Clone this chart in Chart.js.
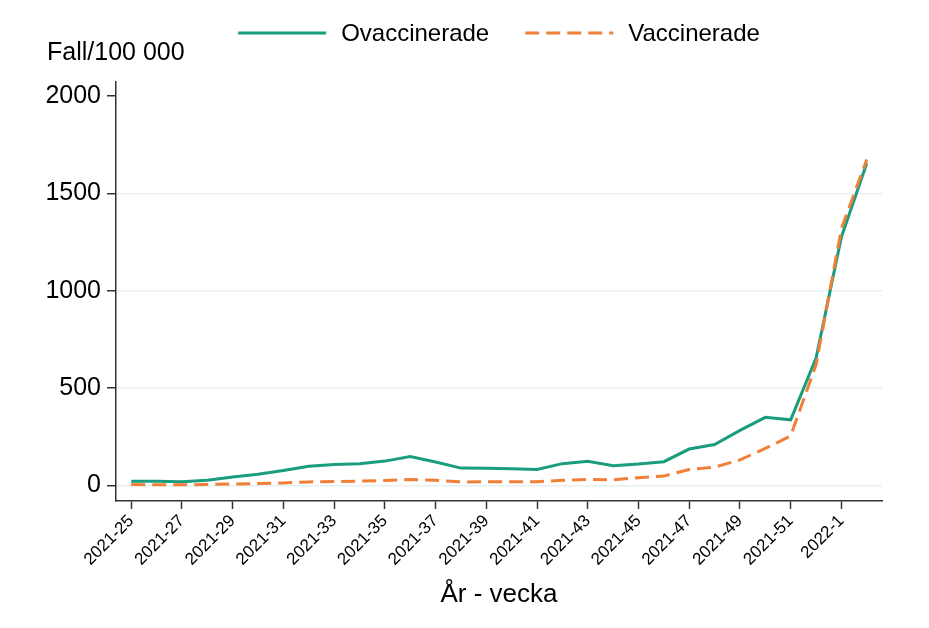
<!DOCTYPE html>
<html>
<head>
<meta charset="utf-8">
<script src="https://cdn.jsdelivr.net/npm/chart.js@4.4.0/dist/chart.umd.min.js"></script>
<style>
  html, body { margin: 0; padding: 0; background: #fff; }
  #wrap { width: 929px; height: 628px; }
</style>
</head>
<body>
<div id="wrap"><canvas id="chart"></canvas></div>
<script>
// week labels, 2021-25 .. 2022-2
const weeks = [
    '2021-25', '2021-26', '2021-27', '2021-28', '2021-29', '2021-30', '2021-31', '2021-32',
    '2021-33', '2021-34', '2021-35', '2021-36', '2021-37', '2021-38', '2021-39', '2021-40',
    '2021-41', '2021-42', '2021-43', '2021-44', '2021-45', '2021-46', '2021-47', '2021-48',
    '2021-49', '2021-50', '2021-51', '2021-52', '2022-1', '2022-2'
];
// cases per 100 000
const unvaccinated = [22, 21, 19, 27, 43, 57, 77, 98, 108, 112, 125, 148, 120, 89, 88,
    86, 82, 112, 124, 101, 110, 122, 187, 210, 283, 350, 337, 655, 1277, 1655];
const vaccinated = [5, 3, 3, 5, 7, 10, 13, 18, 20, 22, 25, 30, 27, 18, 19,
    19, 19, 26, 31, 29, 40, 48, 82, 94, 131, 190, 255, 620, 1320, 1675];

const xTicks = [0, 2, 4, 6, 8, 10, 12, 14, 16, 18, 20, 22, 24, 26, 28];
const yTicks = [0, 500, 1000, 1500, 2000];
const gridValues = [0, 500, 1000, 1500];

const green = '#1a9d7e';
const orange = '#f07f38';

Chart.defaults.font.family = '"Liberation Sans", Arial, sans-serif';
Chart.defaults.color = '#000';

// legend line samples + "Fall/100 000" label above the y axis
const legendAndTitle = {
    id: 'legendAndTitle',
    afterDraw(chart) {
        const ctx = chart.ctx;
        const area = chart.chartArea;
        const items = chart.data.datasets;
        const sample = 88, gap = 15, between = 36;
        ctx.save();
        ctx.font = '24px "Liberation Sans", Arial, sans-serif';
        ctx.textBaseline = 'middle';
        ctx.textAlign = 'left';
        let total = 0;
        items.forEach((d, i) => {
            total += sample + gap + ctx.measureText(d.label).width;
            if (i < items.length - 1) total += between;
        });
        let x = (area.left + area.right) / 2 - total / 2;
        const y = 33;
        items.forEach(d => {
            ctx.strokeStyle = d.borderColor;
            ctx.lineWidth = d.borderWidth;
            ctx.setLineDash(d.borderDash || []);
            ctx.beginPath();
            ctx.moveTo(x, y);
            ctx.lineTo(x + sample, y);
            ctx.stroke();
            x += sample + gap;
            ctx.fillStyle = '#000';
            ctx.fillText(d.label, x, y + 1);
            x += ctx.measureText(d.label).width + between;
        });
        ctx.setLineDash([]);
        ctx.font = '25px "Liberation Sans", Arial, sans-serif';
        ctx.fillText('Fall/100 000', 47, 53);
        ctx.restore();
    }
};

const ctx = document.getElementById('chart').getContext('2d');
new Chart(ctx, {
    type: 'line',
    data: {
        datasets: [{
            label: 'Ovaccinerade',
            data: unvaccinated.map((v, i) => ({ x: i, y: v })),
            borderColor: green,
            borderWidth: 3,
            pointRadius: 0,
            order: 1
        }, {
            label: 'Vaccinerade',
            data: vaccinated.map((v, i) => ({ x: i, y: v })),
            borderColor: orange,
            borderWidth: 3,
            borderDash: [14, 7],
            pointRadius: 0,
            order: 0
        }]
    },
    options: {
        responsive: true,
        maintainAspectRatio: false,
        animation: false,
        devicePixelRatio: 1,
        layout: { padding: { top: 82, left: 0, right: 47, bottom: 0 } },
        plugins: {
            legend: { display: false },
            tooltip: { enabled: false }
        },
        scales: {
            x: {
                type: 'linear',
                min: -0.6,
                max: 29.6,
                afterBuildTicks: s => { s.ticks = xTicks.map(v => ({ value: v })); },
                afterFit: s => { s.height = 127; },
                grid: { drawOnChartArea: false, drawTicks: true, tickLength: 8, tickColor: '#333', tickWidth: 1.5 },
                border: { color: '#333', width: 1.5 },
                ticks: {
                    font: { size: 17 },
                    color: '#000',
                    autoSkip: false,
                    maxRotation: 45,
                    minRotation: 45,
                    padding: 2,
                    callback: v => weeks[v]
                },
                title: {
                    display: true,
                    text: 'År - vecka',
                    font: { size: 26 },
                    color: '#000',
                    padding: { top: 0, bottom: 18 }
                }
            },
            y: {
                min: -80,
                max: 2073,
                afterBuildTicks: s => { s.ticks = yTicks.map(v => ({ value: v })); },
                afterFit: s => { s.width = 116; },
                grid: {
                    color: c => gridValues.includes(c.tick && c.tick.value) ? '#e6eff2' : 'rgba(0,0,0,0)',
                    lineWidth: 1.5,
                    tickColor: '#333',
                    tickWidth: 1.5,
                    tickLength: 9
                },
                border: { color: '#333', width: 1.5 },
                ticks: { font: { size: 25 }, color: '#000', padding: 6, callback: v => String(v) }
            }
        }
    },
    plugins: [legendAndTitle]
});
</script>
</body>
</html>
